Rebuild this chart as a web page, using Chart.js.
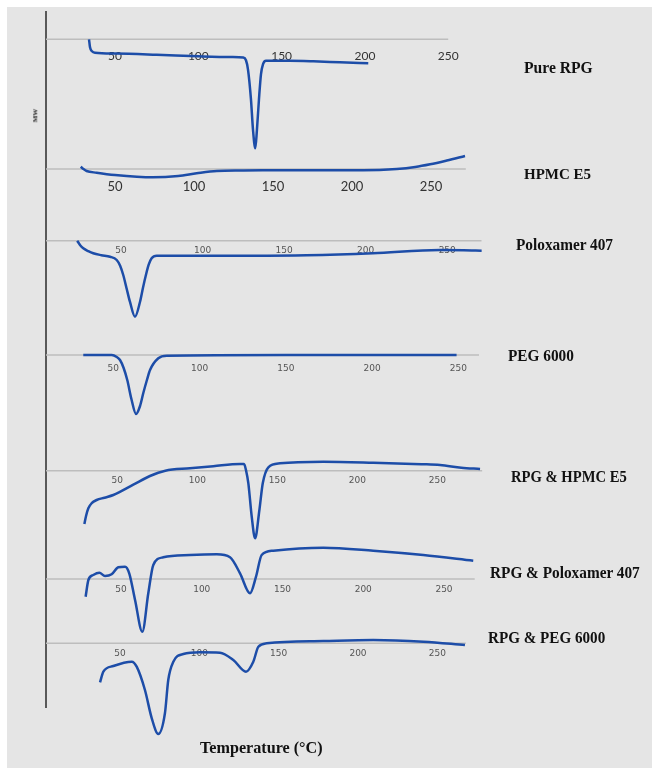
<!DOCTYPE html>
<html>
<head>
<meta charset="utf-8">
<script src="https://cdn.jsdelivr.net/npm/chart.js@4.4.1/dist/chart.umd.min.js"></script>
<style>
  body { margin: 0; background: #fff; }
  #bg { position: absolute; left: 7px; top: 7px; width: 645px; height: 761px; background: #e5e5e5; }
  #dsc { position: absolute; left: 0; top: 0; }
  .lbl { position: absolute; font-family: 'Liberation Serif', serif; font-weight: bold; color: #111; line-height: 1; white-space: nowrap; transform-origin: 0 50%; }
</style>
</head>
<body>
<div id="bg"></div>
<canvas id="dsc" width="652" height="769"></canvas>
<div class="lbl" style="left:524px;top:59px;font-size:17px;transform:scaleX(0.92)">Pure RPG</div>
<div class="lbl" style="left:524px;top:167px;font-size:15px">HPMC E5</div>
<div class="lbl" style="left:516px;top:236px;font-size:17px;transform:scaleX(0.9)">Poloxamer 407</div>
<div class="lbl" style="left:508px;top:347px;font-size:17px;transform:scaleX(0.9)">PEG 6000</div>
<div class="lbl" style="left:511px;top:468px;font-size:17px;transform:scaleX(0.86)">RPG &amp; HPMC E5</div>
<div class="lbl" style="left:490px;top:564px;font-size:17px;transform:scaleX(0.9)">RPG &amp; Poloxamer 407</div>
<div class="lbl" style="left:488px;top:629px;font-size:17px;transform:scaleX(0.89)">RPG &amp; PEG 6000</div>
<div class="lbl" style="left:200px;top:739px;font-size:17px;transform:scaleX(0.95)">Temperature (°C)</div>
<div class="lbl" style="left:29px;top:112px;font-size:7px;transform-origin:50% 50%;transform:rotate(-90deg)">MW</div>
<script>
// heat flow, arbitrary units, 0 = each trace's baseline
const tickValues = [50, 100, 150, 200, 250];

const pureRpgTemp = [34.4, 35.0, 36.2, 38.0, 50, 75, 100, 120, 127, 128.6, 129.8, 131.6, 132.8, 134.2, 135.2, 136.4, 137.6, 138.8, 140.6, 155, 169, 185, 202];
const pureRpgFlow = [0, -8, -12, -13.5, -14.3, -15.5, -17, -17.8, -18.3, -21, -30, -60, -90, -109, -90, -60, -35, -25, -21.5, -21.5, -22, -23, -24];

const hpmcTemp = [28.3, 30, 32, 38.4, 50, 74, 90, 101.7, 114.4, 130, 143.7, 175, 207, 228.3, 240, 249.4, 260, 271.5];
const hpmcFlow = [2.3, 0, -2, -3.7, -6, -8.3, -7, -4.3, -2, -1.5, -1.3, -1.3, -1.3, 0, 2, 4.7, 8.5, 13];

const poloxTemp = [23.2, 25, 26.9, 30, 33, 38, 43.3, 47.4, 49.5, 51.4, 53.5, 55.5, 58.6, 61.7, 63.5, 65.3, 67, 68.8, 71.9, 100, 130, 163.8, 204.5, 245.5, 260, 271.1];
const poloxFlow = [0, -4.5, -7.6, -10.5, -12.6, -14.5, -16, -19.3, -25, -34.3, -48, -61, -76, -61, -47, -34.3, -24, -17.6, -15, -15, -15, -14.6, -12.6, -9.3, -9.5, -10];

const pegTemp = [32.6, 49.1, 52, 53.9, 56, 58.1, 60.5, 63.2, 65.5, 67.4, 69.5, 71.3, 76.1, 81, 150, 249];
const pegFlow = [0, 0, -2, -5, -13, -25, -44, -59, -51, -38, -25, -15, -3.3, -0.7, 0, 0];

const rpgHpmcTemp = [29.4, 30.5, 31.9, 34, 37.1, 42, 47.5, 60, 70.4, 80, 95.4, 110, 126.7, 129.2, 130.5, 131.9, 134, 136.1, 138.8, 140.9, 144.4, 151.7, 178.8, 210, 240, 251.7, 265, 276.7];
const rpgHpmcFlow = [-53.3, -45, -37.6, -32.5, -29.3, -27, -24.3, -14, -5.3, 0, 2.4, 4.5, 6.7, 6.7, 0, -12.6, -46, -67.6, -39.3, -12.6, 3.4, 7.4, 9, 8, 6.5, 5.7, 3, 1.7];

const rpgPoloxTemp = [28.1, 29.8, 32.8, 36.6, 40.1, 44.2, 48.3, 52.5, 55.1, 58.7, 63.2, 66.9, 70, 76.2, 92.7, 109.3, 117.5, 123.7, 129.9, 133.6, 137.1, 144.3, 175.3, 206.2, 237.2, 268.1];
const rpgPoloxFlow = [-17.7, -1, 4, 6.3, 3, 4.7, 11.7, 12.3, 5.7, -21, -52.7, -14.3, 14, 21.7, 24, 24.7, 21.7, 5.7, -14.3, 2.3, 24, 28.3, 31.3, 28.3, 24, 18.3];

const rpgPegTemp = [37.4, 39.5, 45.8, 57.4, 60.5, 65.7, 70, 74.1, 78.3, 80.4, 83.6, 89.9, 100.4, 113, 121.4, 129.4, 134, 137.2, 142.5, 178.1, 209.6, 241.2, 267.4];
const rpgPegFlow = [-39, -28.4, -22.7, -18.4, -23.4, -46.7, -75, -90.7, -70, -36.7, -18.4, -10.7, -9, -9.4, -16.7, -28.4, -18.4, -3.4, 0, 2.3, 3.3, 1.6, -1.7];

// where each grey baseline stops (°C)
const baselineEnd = [250, 272, 271, 262, 278, 269, 268];

const traces = [
  [pureRpgTemp, pureRpgFlow],
  [hpmcTemp, hpmcFlow],
  [poloxTemp, poloxFlow],
  [pegTemp, pegFlow],
  [rpgHpmcTemp, rpgHpmcFlow],
  [rpgPoloxTemp, rpgPoloxFlow],
  [rpgPegTemp, rpgPegFlow],
];

// each trace has its own temperature scale and its own vertical offset
const layout = [
  { xMin: 8.58, xMax: 366.3, yMin: -667.7, yMax: 27.3, font: { family: 'Lato', size: 12 }, color: '#333', pad: 10 },
  { xMin: 6.33, xMax: 383.5, yMin: -538, yMax: 157, font: { family: 'Lato', size: 13 }, color: '#333', pad: 10.5 },
  { xMin: 4.05, xMax: 369.4, yMin: -466.3, yMax: 228.7, font: { family: 'DejaVu Sans', size: 9 }, color: '#555', pad: 5 },
  { xMin: 10.99, xMax: 356.5, yMin: -352, yMax: 343, font: { family: 'DejaVu Sans', size: 9 }, color: '#555', pad: 8 },
  { xMin: 5.44, xMax: 377.9, yMin: -236.3, yMax: 458.7, font: { family: 'DejaVu Sans', size: 9 }, color: '#555', pad: 5 },
  { xMin: 3.56, xMax: 372.6, yMin: -128, yMax: 567, font: { family: 'DejaVu Sans', size: 9 }, color: '#555', pad: 5.6 },
  { xMin: 3.34, xMax: 379.0, yMin: -63.7, yMax: 631.3, font: { family: 'DejaVu Sans', size: 9 }, color: '#555', pad: 5.3 },
];

const scales = {};
const baselines = [];
const curves = [];

traces.forEach(([temp, flow], i) => {
  const L = layout[i];
  scales['x' + i] = {
    type: 'linear', axis: 'x',
    position: { ['y' + i]: 0 },
    min: L.xMin, max: L.xMax,
    grid: { display: false, drawTicks: false },
    border: { display: false },
    ticks: { font: L.font, color: L.color, padding: L.pad, autoSkip: false, maxRotation: 0 },
    afterBuildTicks: axis => { axis.ticks = tickValues.map(v => ({ value: v })); },
  };
  scales['y' + i] = {
    type: 'linear', axis: 'y', position: 'left',
    display: i === 0,
    min: L.yMin, max: L.yMax,
    grid: { display: false, drawTicks: false },
    ticks: { display: false },
    border: { display: true, color: '#595959', width: 2 },
  };
  baselines.push({
    data: [{ x: 0, y: 0 }, { x: baselineEnd[i], y: 0 }],
    xAxisID: 'x' + i, yAxisID: 'y' + i,
    borderColor: '#bdbdbd', borderWidth: 1.5, pointRadius: 0,
  });
  curves.push({
    data: temp.map((t, j) => ({ x: t, y: flow[j] })),
    xAxisID: 'x' + i, yAxisID: 'y' + i,
    borderColor: '#1d4da8', borderWidth: 2.5, pointRadius: 0,
    cubicInterpolationMode: 'monotone', clip: false,
  });
});

// first dataset is painted last, so the traces go first to sit on top of the baselines
new Chart(document.getElementById('dsc'), {
  type: 'line',
  data: { datasets: [...curves, ...baselines] },
  options: {
    responsive: false,
    animation: false,
    layout: { padding: { left: 46, right: 10, top: 12, bottom: 62 } },
    plugins: { legend: { display: false }, tooltip: { enabled: false } },
    scales,
  },
});
</script>
</body>
</html>
